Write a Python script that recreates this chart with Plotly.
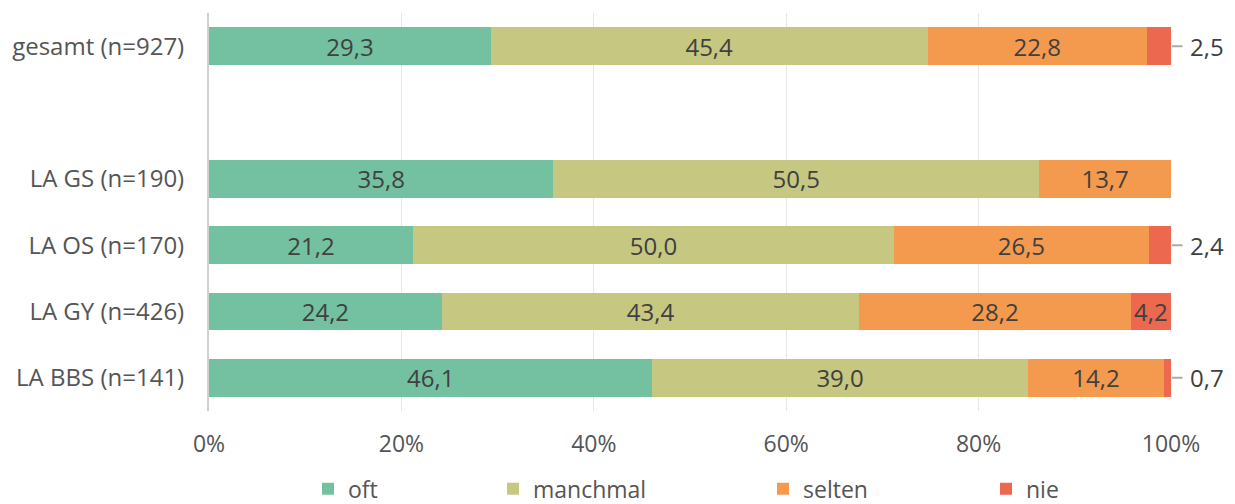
import plotly.graph_objects as go

# Daten
categories = ['gesamt (n=927)', ' ', 'LA GS (n=190)', 'LA OS (n=170)', 'LA GY (n=426)', 'LA BBS (n=141)']
oft = [29.3, None, 35.8, 21.2, 24.2, 46.1]
manchmal = [45.4, None, 50.5, 50.0, 43.4, 39.0]
selten = [22.8, None, 13.7, 26.5, 28.2, 14.2]
nie = [2.5, None, 0.0, 2.4, 4.2, 0.7]

series = [('oft', oft, '#74c1a1'), ('manchmal', manchmal, '#c6c781'),
          ('selten', selten, '#f39a4f'), ('nie', nie, '#ec684e')]

def fmt(v):
    return '' if v is None else f'{v:.1f}'.replace('.', ',')

fig = go.Figure()
for i, (name, vals, col) in enumerate(series):
    texts = []
    for v in vals:
        # kleine Werte werden außen beschriftet
        if v is None or v < 3:
            texts.append('')
        else:
            texts.append(fmt(v))
    fig.add_trace(go.Bar(
        name=name, y=categories, x=vals, orientation='h',
        marker=dict(color=col, line=dict(width=0)),
        text=texts, textposition='inside', insidetextanchor='middle',
        textfont=dict(size=24, color='#404040'),
        constraintext='none',
        hoverinfo='skip',
        legend='legend' if i == 0 else f'legend{i + 1}'
    ))

# Außenbeschriftungen mit Führungslinie
for cat, v in zip(categories, nie):
    if v is not None and 0 < v < 3:
        fig.add_annotation(
            x=100, y=cat, xref='x', yref='y', text=fmt(v),
            showarrow=True, arrowhead=0, arrowwidth=2, arrowcolor='#aaaaaa',
            ax=36, ay=0, standoff=1, startstandoff=6,
            font=dict(size=24, color='#404040')
        )

# Legenden einzeln platzieren (Abstände wie im Original)
legend_x = [308, 493, 763, 986]
leg = dict(orientation='h', xref='container', yref='container', y=0.03, yanchor='middle',
           xanchor='left', font=dict(size=23, color='#555555'),
           bgcolor='rgba(0,0,0,0)', itemwidth=30)
layout_legends = {}
for i, lx in enumerate(legend_x):
    key = 'legend' if i == 0 else f'legend{i + 1}'
    layout_legends[key] = dict(leg, x=lx / 1235)

fig.update_layout(
    barmode='stack',
    bargap=0.43,
    width=1235, height=504,
    margin=dict(l=209, r=64, t=13, b=93),
    plot_bgcolor='white', paper_bgcolor='white',
    font=dict(family='Open Sans', size=23, color='#555555'),
    xaxis=dict(range=[0, 100], tickvals=[0, 20, 40, 60, 80, 100],
               ticktext=['0%', '20%', '40%', '60%', '80%', '100%'],
               showgrid=True, gridcolor='#e6e6e6', gridwidth=1, zeroline=False,
               ticks='outside', ticklen=12, tickcolor='rgba(0,0,0,0)',
               tickfont=dict(size=23, color='#555555'), fixedrange=True,
               automargin=False),
    yaxis=dict(autorange='reversed', showline=True, linecolor='#d0d0d0', linewidth=2,
               ticks='', ticklabelstandoff=18, automargin=False,
               tickfont=dict(size=24, color='#555555'), fixedrange=True),
    showlegend=True,
    **layout_legends
)

fig.write_html('out.html', config={'displayModeBar': False},
               post_script="document.body.style.margin='0';")
